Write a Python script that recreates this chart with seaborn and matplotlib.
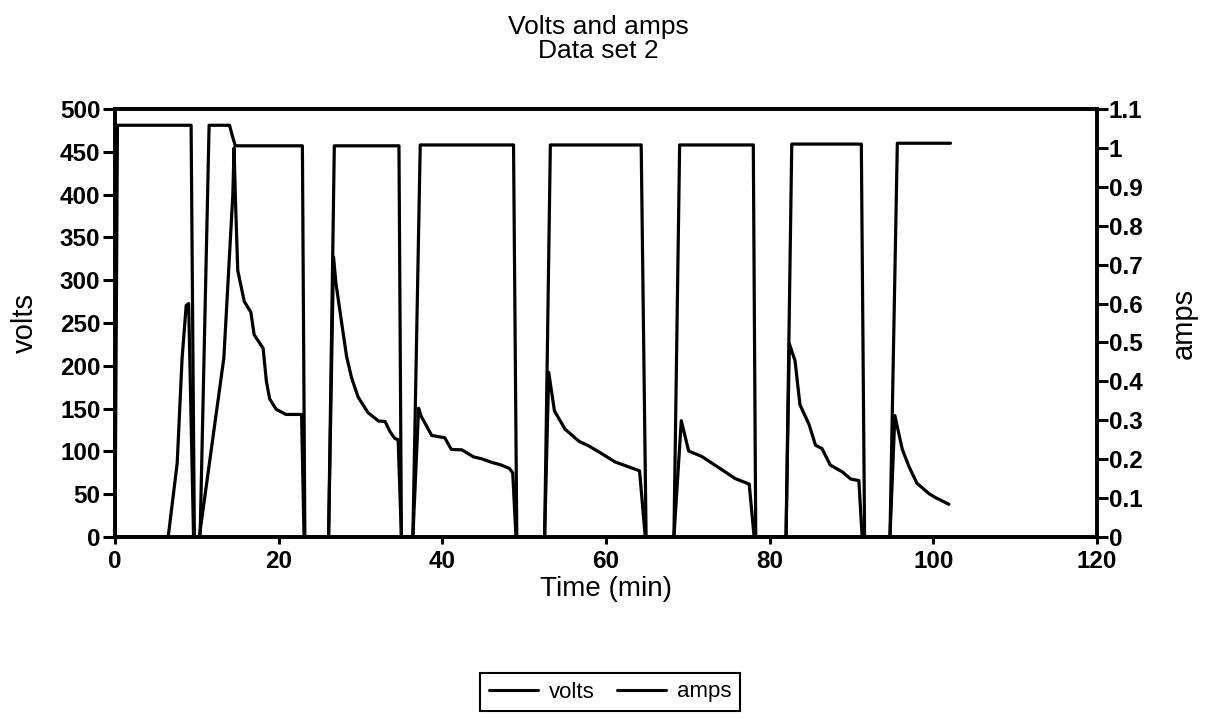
import matplotlib
matplotlib.use("Agg")
import matplotlib.pyplot as plt
from matplotlib.lines import Line2D
import pandas as pd
import seaborn as sns

# Supply voltage (V) against run time (min)
time_volts = [0, 0.3, 9.3, 9.7, 10.4, 11.5, 14.0, 14.3, 14.7, 22.9, 23.2,
              26.1, 26.8, 34.7, 35.0, 36.4, 37.3, 48.7, 49.1, 52.5, 53.2,
              64.3, 64.9, 68.3, 69.0, 78.0, 78.3, 82.0, 82.7, 91.2, 91.6,
              94.7, 95.6, 102.1]
volts = [0, 481, 481, 0, 0, 481, 481, 470, 457, 457, 0,
         0, 457, 457, 0, 0, 458, 458, 0, 0, 458,
         458, 0, 0, 458, 458, 0, 0, 459, 459, 0,
         0, 460, 460]

# Current (A) against run time (min)
time_amps = [0, 6.5, 7.6, 8.2, 8.7, 9.0, 9.6,
             10.3, 13.3, 14.4, 14.55, 14.7, 15.0, 15.8, 16.6, 17.0, 18.1,
             18.5, 18.9, 19.7, 20.9, 22.8, 23.1,
             26.1, 26.7, 27.0, 27.7, 28.3, 28.9, 29.7, 30.9, 32.2, 33.0,
             33.6, 34.2, 34.6, 35.0,
             36.4, 37.1, 37.4, 38.7, 40.3, 41.1, 42.4, 43.8, 44.8, 46.0,
             47.2, 48.2, 48.6, 49.0,
             52.5, 53.0, 53.7, 55.0, 56.7, 57.9, 59.5, 61.1, 62.8, 64.1, 64.8,
             68.3, 69.2, 70.1, 71.7, 73.8, 75.8, 77.5, 78.1,
             82.0, 82.4, 83.1, 83.7, 84.8, 85.6, 86.4, 87.4, 88.9, 89.9,
             90.9, 91.3,
             94.7, 95.3, 96.2, 97.0, 98.0, 99.5, 100.2, 101.9]
amps = [0, 0, 0.19, 0.46, 0.595, 0.60, 0,
        0, 0.46, 0.88, 1.0, 0.88, 0.685, 0.605, 0.578, 0.52, 0.485,
        0.40, 0.355, 0.328, 0.315, 0.315, 0,
        0, 0.72, 0.652, 0.55, 0.464, 0.41, 0.36, 0.32, 0.298, 0.297,
        0.271, 0.253, 0.25, 0,
        0, 0.331, 0.311, 0.261, 0.255, 0.225, 0.224, 0.206, 0.201, 0.192,
        0.185, 0.176, 0.165, 0,
        0, 0.423, 0.324, 0.277, 0.246, 0.234, 0.214, 0.193, 0.18, 0.17, 0,
        0, 0.299, 0.221, 0.207, 0.178, 0.15, 0.136, 0,
        0, 0.497, 0.453, 0.34, 0.29, 0.236, 0.227, 0.185, 0.167, 0.149,
        0.145, 0,
        0, 0.312, 0.226, 0.182, 0.138, 0.111, 0.102, 0.084]

x_ticks = [0, 20, 40, 60, 80, 100, 120]
volt_ticks = [0, 50, 100, 150, 200, 250, 300, 350, 400, 450, 500]
amp_ticks = [0, 0.1, 0.2, 0.3, 0.4, 0.5, 0.6, 0.7, 0.8, 0.9, 1.0, 1.1]
amp_tick_labels = ["0", "0.1", "0.2", "0.3", "0.4", "0.5", "0.6", "0.7",
                   "0.8", "0.9", "1", "1.1"]

sns.set_theme(style="ticks")
plt.rcParams["font.family"] = ["Liberation Sans", "DejaVu Sans"]

W, H = 1214, 725
fig = plt.figure(figsize=(W / 100, H / 100), dpi=100)
left, right, top, bottom = 115, 1097, 109, 537
ax = fig.add_axes([left / W, 1 - bottom / H, (right - left) / W, (bottom - top) / H])
ax2 = ax.twinx()

df_volts = pd.DataFrame({"time": time_volts, "volts": volts})
df_amps = pd.DataFrame({"time": time_amps, "amps": amps})

sns.lineplot(data=df_volts, x="time", y="volts", ax=ax, color="black",
             linewidth=2.3, sort=False, estimator=None, legend=False)
sns.lineplot(data=df_amps, x="time", y="amps", ax=ax2, color="black",
             linewidth=2.3, sort=False, estimator=None, legend=False)

ax.set_xlim(0, 120)
ax.set_ylim(0, 500)
ax2.set_ylim(0, 1.1)
ax.set_xticks(x_ticks)
ax.set_yticks(volt_ticks)
ax2.set_yticks(amp_ticks)
ax2.set_yticklabels(amp_tick_labels)

for a in (ax, ax2):
    for sp in a.spines.values():
        sp.set_visible(True)
        sp.set_color("black")
        sp.set_linewidth(2.6)
    a.grid(False)

ax.tick_params(axis="y", direction="out", length=9, width=2.2, pad=1.5,
               colors="black", labelsize=17.5)
ax.tick_params(axis="x", direction="out", length=5, width=2.2, pad=4,
               colors="black", labelsize=17.5)
ax2.tick_params(axis="y", direction="out", length=8, width=2.2, pad=0.5,
                colors="black", labelsize=17.5)
for lab in ax.get_xticklabels() + ax.get_yticklabels() + ax2.get_yticklabels():
    lab.set_fontweight("bold")

ax.set_xlabel("Time (min)", fontsize=20, color="black")
ax.set_ylabel("volts", fontsize=21, color="black")
ax2.set_ylabel("amps", fontsize=21, color="black")
ax.xaxis.set_label_coords(0.5, -0.09)
ax.yaxis.set_label_coords(-0.077, 0.5)
ax2.yaxis.set_label_coords(1.074, 0.5)

fig.text(598 / W, 1 - 15 / H, "Volts and amps\nData set 2", ha="center",
         va="top", fontsize=19, linespacing=1.02, color="black")

handles = [Line2D([], [], color="black", linewidth=2.2),
           Line2D([], [], color="black", linewidth=2.2)]
leg = fig.legend(handles, ["volts", "amps"], loc="center",
                 bbox_to_anchor=(610 / W, 1 - 692 / H), ncol=2, fontsize=16,
                 frameon=True, fancybox=False, framealpha=1,
                 edgecolor="black", labelcolor="black", handlelength=2.2,
                 handletextpad=0.5, columnspacing=1.0, borderpad=0.4)
leg.get_frame().set_linewidth(1.5)

fig.savefig("out.png", dpi=100)
